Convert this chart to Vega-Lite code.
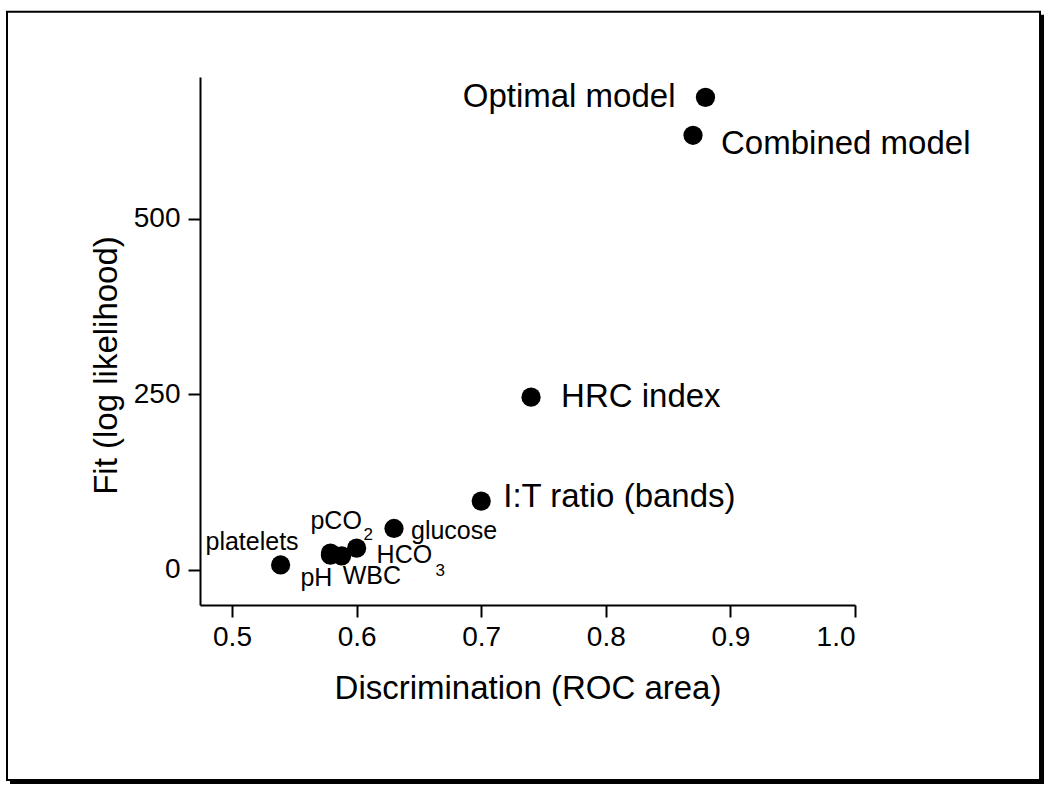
{
  "$schema": "https://vega.github.io/schema/vega-lite/v6.json",
  "autosize": {"type": "none"},
  "width": 655,
  "height": 528,
  "padding": {"left": 200, "top": 77, "right": 195, "bottom": 184},
  "background": "white",
  "config": {
    "view": {"stroke": null},
    "font": "Liberation Sans",
    "axis": {
      "grid": false,
      "domainColor": "black",
      "domainWidth": 2,
      "tickColor": "black",
      "tickWidth": 2,
      "tickSize": 12,
      "labelColor": "black",
      "labelFont": "Liberation Sans",
      "labelFontSize": 28,
      "titleColor": "black",
      "titleFont": "Liberation Sans",
      "titleFontSize": 33,
      "titleFontWeight": "normal"
    }
  },
  "datasets": {
    "pts": [
      {"name": "Optimal model", "roc": 0.88, "fit": 673},
      {"name": "Combined model", "roc": 0.87, "fit": 619},
      {"name": "HRC index", "roc": 0.74, "fit": 246},
      {"name": "I:T ratio (bands)", "roc": 0.70, "fit": 98},
      {"name": "glucose", "roc": 0.63, "fit": 59},
      {"name": "HCO", "roc": 0.60, "fit": 31},
      {"name": "WBC", "roc": 0.588, "fit": 20},
      {"name": "pH", "roc": 0.579, "fit": 21},
      {"name": "pCO", "roc": 0.579, "fit": 24},
      {"name": "platelets", "roc": 0.539, "fit": 7}
    ]
  },
  "layer": [
    {
      "data": {"values": [{"x1": 0.3194, "x2": 1.1485, "y1": 794.9, "y2": -299.1}]},
      "mark": {"type": "rect", "fill": null, "stroke": "black", "strokeWidth": 2, "clip": false},
      "encoding": {
        "x": {"field": "x1", "type": "quantitative"},
        "x2": {"field": "x2"},
        "y": {"field": "y1", "type": "quantitative"},
        "y2": {"field": "y2"}
      }
    },
    {
      "data": {"values": [{"x": 1.1505, "y1": 790.6, "y2": -303.4}]},
      "mark": {"type": "rule", "stroke": "black", "strokeWidth": 3, "clip": false},
      "encoding": {
        "x": {"field": "x", "type": "quantitative"},
        "y": {"field": "y1", "type": "quantitative"},
        "y2": {"field": "y2"}
      }
    },
    {
      "data": {"values": [{"x1": 0.3218, "x2": 1.1517, "y": -302.7}]},
      "mark": {"type": "rule", "stroke": "black", "strokeWidth": 3, "clip": false},
      "encoding": {
        "x": {"field": "x1", "type": "quantitative"},
        "x2": {"field": "x2"},
        "y": {"field": "y", "type": "quantitative"}
      }
    },
    {
      "data": {"name": "pts"},
      "mark": {"type": "point", "shape": "circle", "filled": true, "color": "black", "opacity": 1, "size": 370},
      "encoding": {
        "x": {
          "field": "roc", "type": "quantitative",
          "scale": {"domain": [0.4743, 1.0], "nice": false, "zero": false},
          "axis": {"title": "Discrimination (ROC area)", "values": [0.5, 0.6, 0.7, 0.8, 0.9, 1.0], "format": ".1f", "labelPadding": 6, "titlePadding": 21}
        },
        "y": {
          "field": "fit", "type": "quantitative",
          "scale": {"domain": [-50, 702], "nice": false, "zero": false},
          "axis": {"title": "Fit (log likelihood)", "values": [0, 250, 500], "labelPadding": 8, "titleX": -94, "titleY": 288, "titleAngle": -90, "titleBaseline": "middle", "titleAlign": "center"}
        }
      }
    },
    {
      "data": {"name": "pts"},
      "transform": [{"filter": "datum.name == 'Optimal model'"}],
      "mark": {"type": "text", "align": "right", "baseline": "middle", "dx": -30, "dy": 0, "fontSize": 33, "color": "black"},
      "encoding": {"x": {"field": "roc", "type": "quantitative"}, "y": {"field": "fit", "type": "quantitative"}, "text": {"field": "name"}}
    },
    {
      "data": {"name": "pts"},
      "transform": [{"filter": "datum.name == 'Combined model'"}],
      "mark": {"type": "text", "align": "left", "baseline": "middle", "dx": 28, "dy": 9, "fontSize": 33, "color": "black"},
      "encoding": {"x": {"field": "roc", "type": "quantitative"}, "y": {"field": "fit", "type": "quantitative"}, "text": {"field": "name"}}
    },
    {
      "data": {"name": "pts"},
      "transform": [{"filter": "datum.name == 'HRC index'"}],
      "mark": {"type": "text", "align": "left", "baseline": "middle", "dx": 30, "dy": 0, "fontSize": 33, "color": "black"},
      "encoding": {"x": {"field": "roc", "type": "quantitative"}, "y": {"field": "fit", "type": "quantitative"}, "text": {"field": "name"}}
    },
    {
      "data": {"name": "pts"},
      "transform": [{"filter": "datum.name == 'I:T ratio (bands)'"}],
      "mark": {"type": "text", "align": "left", "baseline": "middle", "dx": 22, "dy": -4, "fontSize": 33, "color": "black"},
      "encoding": {"x": {"field": "roc", "type": "quantitative"}, "y": {"field": "fit", "type": "quantitative"}, "text": {"field": "name"}}
    },
    {
      "data": {"name": "pts"},
      "transform": [{"filter": "datum.name == 'glucose'"}],
      "mark": {"type": "text", "align": "left", "baseline": "middle", "dx": 17, "dy": 3, "fontSize": 25, "color": "black"},
      "encoding": {"x": {"field": "roc", "type": "quantitative"}, "y": {"field": "fit", "type": "quantitative"}, "text": {"field": "name"}}
    },
    {
      "data": {"name": "pts"},
      "transform": [{"filter": "datum.name == 'HCO'"}],
      "mark": {"type": "text", "align": "left", "baseline": "middle", "dx": 20, "dy": 7, "fontSize": 25, "color": "black"},
      "encoding": {"x": {"field": "roc", "type": "quantitative"}, "y": {"field": "fit", "type": "quantitative"}, "text": {"field": "name"}}
    },
    {
      "data": {"name": "pts"},
      "transform": [{"filter": "datum.name == 'HCO'"}],
      "mark": {"type": "text", "align": "left", "baseline": "middle", "dx": 79, "dy": 23, "fontSize": 17, "color": "black", "text": "3"},
      "encoding": {"x": {"field": "roc", "type": "quantitative"}, "y": {"field": "fit", "type": "quantitative"}}
    },
    {
      "data": {"name": "pts"},
      "transform": [{"filter": "datum.name == 'WBC'"}],
      "mark": {"type": "text", "align": "left", "baseline": "middle", "dx": 1, "dy": 20, "fontSize": 25, "color": "black"},
      "encoding": {"x": {"field": "roc", "type": "quantitative"}, "y": {"field": "fit", "type": "quantitative"}, "text": {"field": "name"}}
    },
    {
      "data": {"name": "pts"},
      "transform": [{"filter": "datum.name == 'pH'"}],
      "mark": {"type": "text", "align": "left", "baseline": "middle", "dx": -30, "dy": 23, "fontSize": 25, "color": "black"},
      "encoding": {"x": {"field": "roc", "type": "quantitative"}, "y": {"field": "fit", "type": "quantitative"}, "text": {"field": "name"}}
    },
    {
      "data": {"name": "pts"},
      "transform": [{"filter": "datum.name == 'pCO'"}],
      "mark": {"type": "text", "align": "left", "baseline": "middle", "dx": -20, "dy": -32, "fontSize": 25, "color": "black"},
      "encoding": {"x": {"field": "roc", "type": "quantitative"}, "y": {"field": "fit", "type": "quantitative"}, "text": {"field": "name"}}
    },
    {
      "data": {"name": "pts"},
      "transform": [{"filter": "datum.name == 'pCO'"}],
      "mark": {"type": "text", "align": "left", "baseline": "middle", "dx": 33, "dy": -18, "fontSize": 17, "color": "black", "text": "2"},
      "encoding": {"x": {"field": "roc", "type": "quantitative"}, "y": {"field": "fit", "type": "quantitative"}}
    },
    {
      "data": {"name": "pts"},
      "transform": [{"filter": "datum.name == 'platelets'"}],
      "mark": {"type": "text", "align": "right", "baseline": "middle", "dx": 18, "dy": -23, "fontSize": 25, "color": "black"},
      "encoding": {"x": {"field": "roc", "type": "quantitative"}, "y": {"field": "fit", "type": "quantitative"}, "text": {"field": "name"}}
    }
  ]
}
